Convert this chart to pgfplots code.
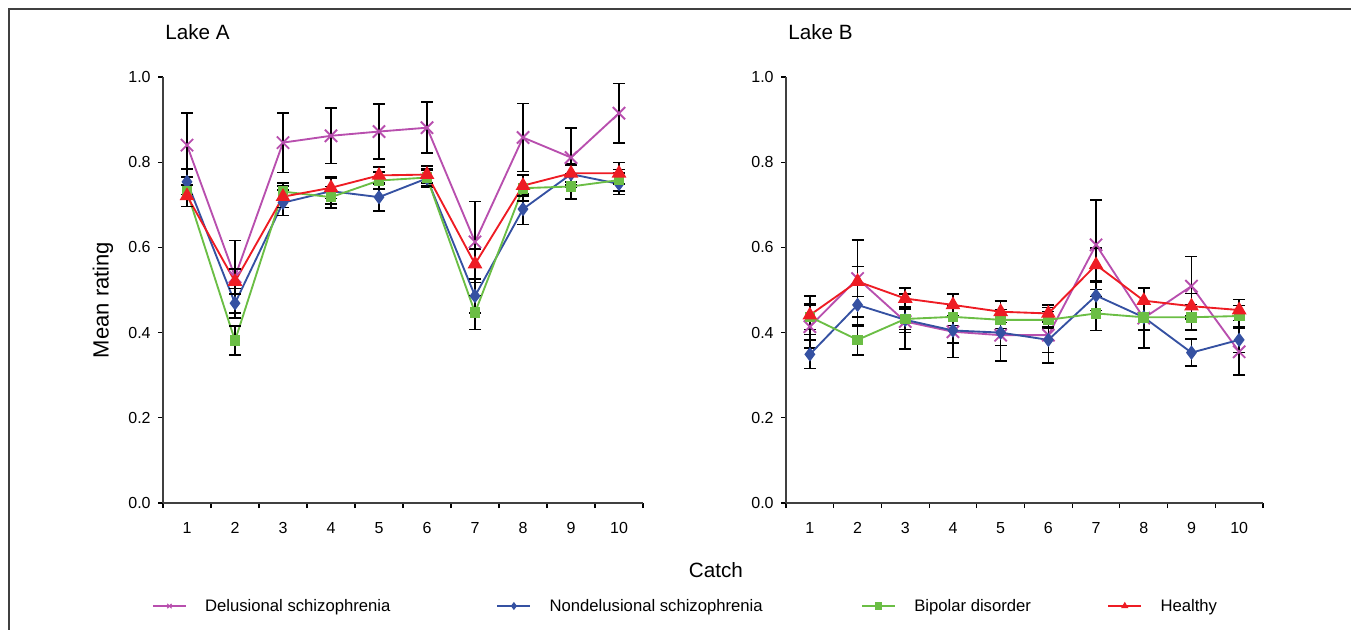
\documentclass[border=0pt]{standalone}
\usepackage{fontspec}
\setmainfont{Liberation Sans}
\usepackage{pgfplots}
\usepackage{pgfplotstable}
\pgfplotsset{compat=1.18}

\definecolor{cDel}{HTML}{B84FAE}
\definecolor{cNon}{HTML}{3551A2}
\definecolor{cBip}{HTML}{6BBE45}
\definecolor{cHea}{HTML}{EE1C24}

% columns: catch, mean and error for each group
\pgfplotstableread{
x  D     De     N     Ne     B     Be     H     He
1  0.840 0.075  0.754 0.030  0.731 0.035  0.721 0.025
2  0.531 0.085  0.469 0.035  0.381 0.034  0.520 0.030
3  0.846 0.070  0.705 0.030  0.731 0.020  0.719 0.025
4  0.862 0.065  0.732 0.030  0.718 0.025  0.740 0.025
5  0.872 0.065  0.718 0.033  0.757 0.020  0.769 0.020
6  0.881 0.060  0.762 0.020  0.764 0.020  0.771 0.020
7  0.613 0.095  0.486 0.040  0.447 0.040  0.561 0.035
8  0.858 0.080  0.690 0.036  0.739 0.030  0.745 0.025
9  0.811 0.070  0.772 0.025  0.743 0.030  0.774 0.020
10 0.915 0.070  0.749 0.025  0.758 0.025  0.774 0.025
}\lakeA

\pgfplotstableread{
x  D     De     N     Ne     B     Be     H     He
1  0.414 0.050  0.349 0.033  0.437 0.030  0.441 0.045
2  0.527 0.090  0.465 0.050  0.383 0.035  0.520 0.035
3  0.426 0.065  0.430 0.030  0.432 0.025  0.480 0.025
4  0.402 0.060  0.405 0.030  0.437 0.020  0.465 0.025
5  0.394 0.060  0.400 0.030  0.430 0.020  0.449 0.025
6  0.394 0.065  0.383 0.030  0.430 0.020  0.445 0.020
7  0.606 0.105  0.487 0.035  0.445 0.040  0.559 0.040
8  0.434 0.070  0.436 0.030  0.436 0.030  0.475 0.030
9  0.509 0.070  0.353 0.032  0.436 0.030  0.462 0.030
10 0.355 0.055  0.383 0.030  0.439 0.025  0.453 0.025
}\lakeB

\pgfplotsset{
  lake/.style={
    scale only axis, height=319.5pt,
    xmin=0.5, xmax=10.5, ymin=0, ymax=1,
    axis x line*=bottom, axis y line*=left,
    axis line style={-, draw=black!75, line width=1pt},
    xtick pos=bottom, ytick pos=left, tick align=outside,
    xtick={1,...,10}, minor xtick={0.5,1.5,...,10.5},
    major x tick style={draw=none},
    minor x tick style={black, line width=0.8pt},
    minor tick length=3.75pt, major tick length=3.75pt,
    ytick={0,0.2,...,1.0},
    y tick style={black, line width=0.8pt},
    /pgf/number format/assume math mode=true,
    tick label style={font=\fontsize{12}{14}\selectfont},
    xticklabel style={yshift=-7.5pt},
    yticklabel style={xshift=-2pt, /pgf/number format/.cd, fixed, fixed zerofill, precision=1},
    title style={at={(0,1)}, anchor=base west, xshift=1.5pt, yshift=22.5pt,
      inner sep=0pt, font=\fontsize{15.5}{18}\selectfont},
    clip=false,
  },
  ser/.style={#1, line width=1.4pt, mark options={solid, fill=#1, draw=#1},
    /pgfplots/error bars/y dir=both, /pgfplots/error bars/y explicit,
    /pgfplots/error bars/error bar style={black, line width=1.2pt},
    /pgfplots/error bars/error mark options={rotate=90, black, line width=1.2pt, mark size=4.5pt}},
  sD/.style={ser=cDel, mark=x, mark size=6.5pt},
  sN/.style={ser=cNon, mark=diamond*, mark size=4.3pt},
  sB/.style={ser=cBip, mark=square*, mark size=3.3pt},
  sH/.style={ser=cHea, mark=triangle*, mark size=5pt},
}

\begin{document}
\begin{tikzpicture}
\path[use as bounding box] (0pt,0pt) rectangle (1013.25pt,-471.75pt);
\draw[black!75, line width=0.9pt] (6.75pt,-480pt) -- (6.75pt,-6.75pt) -- (1020pt,-6.75pt);

\begin{axis}[lake, width=360pt, at={(122.25pt,-377.25pt)}, anchor=south west,
  title={Lake A},
  xlabel={Catch},
  xlabel style={at={(1.152,-0.1737)}, anchor=base, font=\fontsize{15.5}{18}\selectfont},
  ylabel={Mean rating},
  ylabel style={at={(-0.125,0.4765)}, anchor=center, font=\fontsize{16.5}{19}\selectfont},
  legend columns=4,
  legend style={at={(-0.0229,-0.2418)}, anchor=west, draw=none, fill=none,
    inner sep=0pt, font=\fontsize{12.5}{15}\selectfont,
    /tikz/column 1/.style={column sep=12pt},
    /tikz/column 2/.style={column sep=77.75pt},
    /tikz/column 3/.style={column sep=12pt},
    /tikz/column 4/.style={column sep=72pt},
    /tikz/column 5/.style={column sep=12pt},
    /tikz/column 6/.style={column sep=55.5pt},
    /tikz/column 7/.style={column sep=12pt}},
  legend image code/.code={
    \draw[mark repeat=2, mark phase=2, #1, mark size=2.3pt, line width=0.9pt]
      plot coordinates {(0pt,0pt) (12.4pt,0pt) (24.75pt,0pt)};},
]
\addplot[sD] table[x=x, y=D, y error=De]{\lakeA};
\addlegendentry{Delusional schizophrenia}
\addplot[sN] table[x=x, y=N, y error=Ne]{\lakeA};
\addlegendentry{Nondelusional schizophrenia}
\addplot[sB] table[x=x, y=B, y error=Be]{\lakeA};
\addlegendentry{Bipolar disorder}
\addplot[sH] table[x=x, y=H, y error=He]{\lakeA};
\addlegendentry{Healthy}
\end{axis}

\begin{axis}[lake, width=357.75pt, at={(589.5pt,-377.25pt)}, anchor=south west,
  title={Lake B},
]
\addplot[sD] table[x=x, y=D, y error=De]{\lakeB};
\addplot[sN] table[x=x, y=N, y error=Ne]{\lakeB};
\addplot[sB] table[x=x, y=B, y error=Be]{\lakeB};
\addplot[sH] table[x=x, y=H, y error=He]{\lakeB};
\end{axis}
\end{tikzpicture}
\end{document}
